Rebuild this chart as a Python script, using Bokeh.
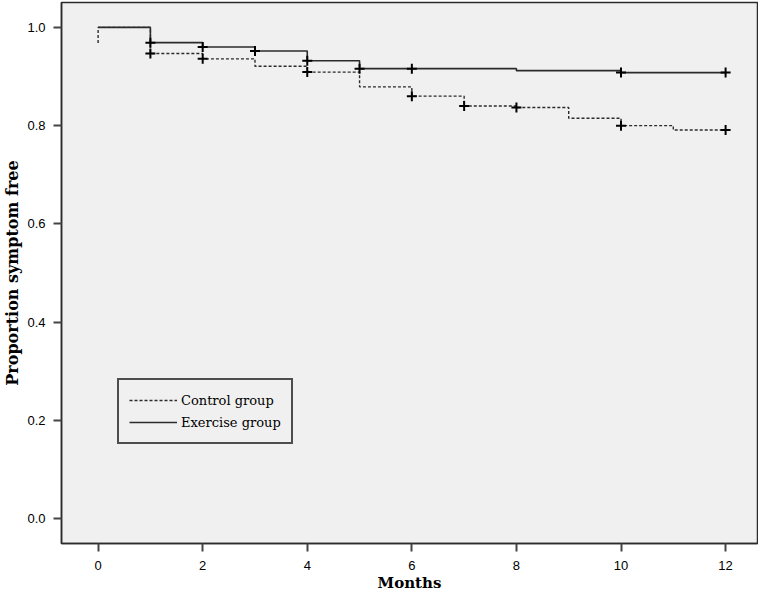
import numpy as np
from bokeh.plotting import figure
from bokeh.models import Range1d, FixedTicker, Legend, LegendItem, CustomJSTickFormatter
from bokeh.embed import file_html
from bokeh.resources import INLINE

# Kaplan-Meier step data (months, proportion symptom free)
exercise_t = [0, 1, 2, 3, 4, 5, 8, 10, 12]
exercise_s = [1.0, 0.969, 0.960, 0.952, 0.932, 0.916, 0.912, 0.908, 0.908]
control_t = [0, 0, 1, 2, 3, 4, 5, 6, 7, 8, 9, 10, 11, 12]
control_s = [0.968, 1.0, 0.947, 0.936, 0.921, 0.909, 0.879, 0.860, 0.840, 0.837, 0.815, 0.800, 0.791, 0.791]

# censoring marks (months)
exercise_cens = [1, 2, 3, 4, 5, 6, 10, 12]
control_cens = [1, 2, 4, 6, 7, 8, 10, 12]

x_ticks = [0, 2, 4, 6, 8, 10, 12]
y_ticks = [0.0, 0.2, 0.4, 0.6, 0.8, 1.0]

def surv_at(ts, ss, t):
    ts = np.asarray(ts); ss = np.asarray(ss)
    idx = np.searchsorted(ts, t, side="right") - 1
    return float(ss[idx])

ink = "#2b2b2b"
p = figure(width=758, height=594, output_backend="svg", toolbar_location=None,
           x_range=Range1d(-0.70, 12.61), y_range=Range1d(-0.0507, 1.0507),
           min_border_left=61, min_border_right=1, min_border_top=2, min_border_bottom=48,
           background_fill_color="#f0f0f0", border_fill_color="white")
p.grid.visible = False
p.outline_line_color = ink
p.outline_line_width = 1.5

r_ctrl = p.step(control_t, control_s, mode="after", line_color=ink, line_width=1.4, line_dash="3 2")
r_ex = p.step(exercise_t, exercise_s, mode="after", line_color=ink, line_width=1.6)

ex_y = [surv_at(exercise_t, exercise_s, t) for t in exercise_cens]
ct_y = [surv_at(control_t, control_s, t) for t in control_cens]
p.scatter(exercise_cens, ex_y, marker="cross", size=10, line_color="black", line_width=2)
p.scatter(control_cens, ct_y, marker="cross", size=10, line_color="black", line_width=2)

p.xaxis.ticker = FixedTicker(ticks=x_ticks)
p.yaxis.ticker = FixedTicker(ticks=y_ticks)
p.yaxis.formatter = CustomJSTickFormatter(code="return tick.toFixed(1);")
for ax in (p.xaxis, p.yaxis):
    ax.axis_line_color = ink
    ax.axis_line_width = 1.5
    ax.major_tick_line_color = "#444444"
    ax.major_tick_line_width = 2
    ax.major_tick_out = 8
    ax.major_tick_in = 0
    ax.minor_tick_line_color = None
    ax.major_label_text_font = "Liberation Sans"
    ax.major_label_text_font_size = "13px"
    ax.major_label_text_color = "black"
    ax.axis_label_text_font = "DejaVu Serif"
    ax.axis_label_text_font_style = "bold"
    ax.axis_label_text_color = "black"
p.xaxis.axis_label_text_font_size = "15px"
p.yaxis.axis_label_text_font_size = "16px"
p.xaxis.axis_label = "Months"
p.yaxis.axis_label = "Proportion symptom free"
p.xaxis.major_label_standoff = 9
p.xaxis.axis_label_standoff = 1
p.yaxis.major_label_standoff = 8
p.yaxis.axis_label_standoff = 2

legend = Legend(items=[LegendItem(label="Control group", renderers=[r_ctrl]),
                       LegendItem(label="Exercise group", renderers=[r_ex])],
                location=(56, 99), padding=10, spacing=2,
                glyph_width=48, glyph_height=20, label_height=20, label_standoff=4,
                label_text_font="DejaVu Serif", label_text_font_size="13px",
                label_text_color="black",
                border_line_color="#4d4d4d", border_line_width=2, border_line_alpha=1.0,
                background_fill_color="#f0f0f0", background_fill_alpha=1.0,
                margin=0)
p.add_layout(legend, "center")

open("out.html", "w").write(file_html(p, INLINE))
